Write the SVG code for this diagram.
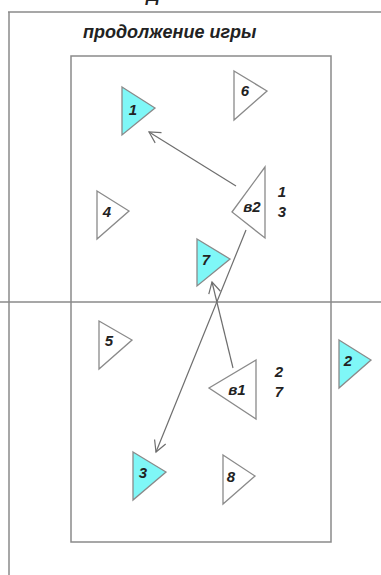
<svg xmlns="http://www.w3.org/2000/svg" width="381" height="575" viewBox="0 0 381 575">
<style>
.frame{fill:none;stroke:#8a8a8a;stroke-width:1.5}
.tri{stroke:#8a8a8a;stroke-width:1.3;stroke-linejoin:miter}
.w{fill:#ffffff}
.c{fill:#7ff7f7}
.lbl{font-family:"Liberation Sans",Arial,sans-serif;font-weight:bold;font-style:italic;font-size:15px;fill:#222;text-anchor:middle}
.title{font-family:"Liberation Sans",Arial,sans-serif;font-weight:bold;font-style:italic;font-size:18px;fill:#222}
.arr{fill:none;stroke:#6e6e6e;stroke-width:1.2}
</style>
<defs>
<marker id="ah" markerWidth="14" markerHeight="14" refX="12" refY="7" orient="auto" markerUnits="userSpaceOnUse">
<path d="M1,1 L12,7 L1,13" fill="none" stroke="#6e6e6e" stroke-width="1.2"/>
</marker>
</defs>
<rect width="381" height="575" fill="#ffffff"/>
<text class="title" x="153" y="1" text-anchor="middle">Д</text>
<g id="frame">
<line class="frame" x1="8" y1="12" x2="381" y2="12"/>
<line class="frame" x1="9" y1="12" x2="9" y2="575"/>
<rect class="frame" x="71" y="56" width="260" height="486"/>
<line class="frame" x1="0" y1="302" x2="381" y2="302" stroke="#777"/>
</g>
<text class="title" x="83" y="38">продолжение игры</text>
<g id="connectors">
<line class="arr" x1="236" y1="186" x2="149" y2="132" marker-end="url(#ah)"/>
<line class="arr" x1="246" y1="230" x2="156" y2="452" marker-end="url(#ah)"/>
<line class="arr" x1="233" y1="368" x2="212" y2="282" marker-end="url(#ah)"/>
</g>
<g id="p1"><polygon class="tri c" points="122,87 155,108 122,135"/><text class="lbl" x="133" y="115">1</text></g>
<g id="p6"><polygon class="tri w" points="234,71 267,91 234,120"/><text class="lbl" x="245" y="96">6</text></g>
<g id="p4"><polygon class="tri w" points="97,191 129,211 97,239"/><text class="lbl" x="107" y="217">4</text></g>
<g id="v2"><polygon class="tri w" points="265,167 232,212 265,238"/><text class="lbl" x="252" y="212">в2</text>
<text class="lbl" x="282" y="197">1</text><text class="lbl" x="282" y="217">3</text></g>
<g id="p7"><polygon class="tri c" points="197,239 230,259 197,286"/><text class="lbl" x="206" y="265">7</text></g>
<g id="p5"><polygon class="tri w" points="99,321 132,340 99,369"/><text class="lbl" x="109" y="346">5</text></g>
<g id="v1"><polygon class="tri w" points="256,360 209,388 256,419"/><text class="lbl" x="237" y="395">в1</text>
<text class="lbl" x="279" y="377">2</text><text class="lbl" x="279" y="397">7</text></g>
<g id="p2"><polygon class="tri c" points="339,340 371,360 339,388"/><text class="lbl" x="348" y="366">2</text></g>
<g id="p3"><polygon class="tri c" points="133,452 166,472 133,500"/><text class="lbl" x="143" y="478">3</text></g>
<g id="p8"><polygon class="tri w" points="223,455 255,476 223,504"/><text class="lbl" x="231" y="482">8</text></g>
</svg>
